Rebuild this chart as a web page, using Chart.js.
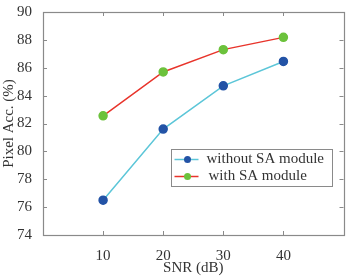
<!DOCTYPE html>
<html>
<head>
<meta charset="utf-8">
<script src="https://cdn.jsdelivr.net/npm/chart.js@4.4.1/dist/chart.umd.min.js"></script>
<style>
  html, body { margin: 0; padding: 0; background: #fff; }
  #wrap { width: 349px; height: 277px; position: relative; }
</style>
</head>
<body>
<div id="wrap"><canvas id="accChart"></canvas></div>
<script>
// data
const snr = [10, 20, 30, 40];
const withoutSA = [76.5, 81.6, 84.7, 86.45];
const withSA = [82.55, 85.7, 87.3, 88.18];
const xTickValues = [10, 20, 30, 40];
const yTickValues = [74, 76, 78, 80, 82, 84, 86, 88, 90];
const seriesLabels = ["without SA module", "with SA module"];

const axisGrey = "#8a8a8a";
const textColor = "#333333";

Chart.defaults.font.family = "'Liberation Serif', 'Times New Roman', serif";
Chart.defaults.font.size = 15;
Chart.defaults.color = textColor;

function toPoints(xs, ys) {
  return xs.map((x, i) => ({ x: x, y: ys[i] }));
}

// box around the plot with ticks pointing inward (matlab style)
const boxTicks = {
  id: "boxTicks",
  beforeDatasetsDraw(chart) {
    const { ctx, chartArea: a, scales } = chart;
    const len = 4;
    ctx.save();
    ctx.strokeStyle = axisGrey;
    ctx.lineWidth = 1;
    ctx.beginPath();
    scales.x.ticks.forEach((t) => {
      const px = Math.round(scales.x.getPixelForValue(t.value)) + 0.5;
      ctx.moveTo(px, a.bottom);
      ctx.lineTo(px, a.bottom - len);
      ctx.moveTo(px, a.top);
      ctx.lineTo(px, a.top + len);
    });
    scales.y.ticks.forEach((t) => {
      const py = Math.round(scales.y.getPixelForValue(t.value)) + 0.5;
      ctx.moveTo(a.left, py);
      ctx.lineTo(a.left + len, py);
      ctx.moveTo(a.right, py);
      ctx.lineTo(a.right - len, py);
    });
    ctx.stroke();
    ctx.lineWidth = 1.2;
    ctx.strokeRect(Math.round(a.left) + 0.5, Math.round(a.top) + 0.5,
      Math.round(a.right - a.left), Math.round(a.bottom - a.top));
    ctx.restore();
  },
};

// legend drawn inside the plot, lower right
const innerLegend = {
  id: "innerLegend",
  afterDatasetsDraw(chart) {
    const { ctx, chartArea: a } = chart;
    const w = 161, h = 37;
    const x0 = a.right - 12 - w;
    const y0 = a.bottom - 49 - h;
    ctx.save();
    ctx.fillStyle = "#fff";
    ctx.fillRect(x0, y0, w, h);
    ctx.strokeStyle = axisGrey;
    ctx.lineWidth = 1;
    ctx.strokeRect(Math.round(x0) + 0.5, Math.round(y0) + 0.5, w, h);
    ctx.font = "15px 'Liberation Serif', 'Times New Roman', serif";
    ctx.textBaseline = "middle";
    ctx.textAlign = "left";
    chart.data.datasets.forEach((ds, i) => {
      const cy = y0 + 10.5 + i * 17;
      ctx.strokeStyle = ds.borderColor;
      ctx.lineWidth = 1.5;
      ctx.beginPath();
      ctx.moveTo(x0 + 4, cy);
      ctx.lineTo(x0 + 28, cy);
      ctx.stroke();
      ctx.fillStyle = ds.pointBackgroundColor;
      ctx.beginPath();
      ctx.arc(x0 + 17, cy, 3.5, 0, Math.PI * 2);
      ctx.fill();
      ctx.fillStyle = textColor;
      ctx.fillText(ds.label, x0 + 36 + i * 2, cy);
    });
    ctx.restore();
  },
};

const ctx = document.getElementById("accChart").getContext("2d");
new Chart(ctx, {
  type: "scatter",
  data: {
    datasets: [
      {
        label: seriesLabels[0],
        data: toPoints(snr, withoutSA),
        showLine: true,
        borderColor: "#5cc6d8",
        borderWidth: 1.5,
        pointBackgroundColor: "#2353a6",
        pointBorderColor: "#2353a6",
        pointRadius: 4,
      },
      {
        label: seriesLabels[1],
        data: toPoints(snr, withSA),
        showLine: true,
        borderColor: "#e8342b",
        borderWidth: 1.5,
        pointBackgroundColor: "#6cc23c",
        pointBorderColor: "#6cc23c",
        pointRadius: 4,
      },
    ],
  },
  options: {
    responsive: true,
    maintainAspectRatio: false,
    animation: false,
    layout: { padding: { top: 7, right: 1, left: 0, bottom: 0 } },
    plugins: {
      legend: { display: false },
      tooltip: { enabled: false },
    },
    scales: {
      x: {
        type: "linear",
        min: 0,
        max: 50,
        afterBuildTicks: (scale) => {
          scale.ticks = xTickValues.map((v) => ({ value: v }));
        },
        afterFit: (scale) => {
          scale.height = 42;
        },
        grid: { display: false },
        border: { display: false },
        ticks: { padding: 4, color: textColor },
        title: {
          display: true,
          text: "SNR (dB)",
          color: textColor,
          padding: { top: 2, bottom: 0 },
        },
      },
      y: {
        min: 74,
        max: 90,
        afterBuildTicks: (scale) => {
          scale.ticks = yTickValues.map((v) => ({ value: v }));
        },
        afterFit: (scale) => {
          scale.width = 43;
        },
        grid: { display: false },
        border: { display: false },
        ticks: { padding: 3, color: textColor },
        title: {
          display: true,
          text: "Pixel Acc. (%)",
          color: textColor,
          padding: { top: 0, bottom: 2 },
        },
      },
    },
  },
  plugins: [boxTicks, innerLegend],
});
</script>
</body>
</html>
